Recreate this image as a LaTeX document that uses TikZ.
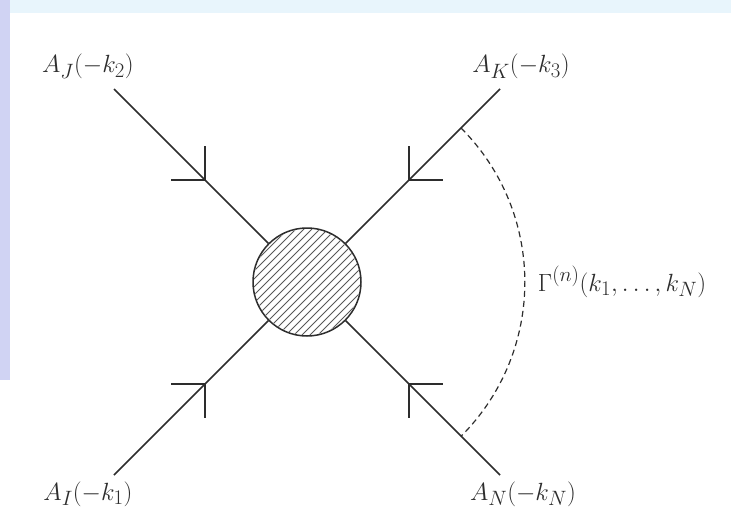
\documentclass[tikz,border=0pt]{standalone}
\usetikzlibrary{calc}
\definecolor{ink}{RGB}{45,45,45}
\definecolor{leftc}{RGB}{208,211,243}
\definecolor{topc}{RGB}{232,245,252}
\begin{document}
\begin{tikzpicture}[x=1pt,y=-1pt,
  leg/.style={draw=ink,line width=1.7pt},
  hatch/.style={draw=ink!80,line width=0.9pt},
  dasharc/.style={draw=ink,line width=1.2pt,dash pattern=on 6pt off 4pt},
  lbl/.style={text=ink,inner sep=0pt,font=\fontsize{24.88}{30}\selectfont}]
\useasboundingbox (0,0) rectangle (731,511);
\fill[white] (0,0) rectangle (731,511);
\fill[topc] (0,0) rectangle (731,13);
\fill[leftc] (0,0) rectangle (10,380);
% vertex
\node[circle,draw=ink,line width=1.5pt,minimum size=108pt,inner sep=0pt] (c) at (307,282) {};
\begin{scope}
  \clip (c.center) circle[radius=53];
  \foreach \i in {-14,...,14}
    \draw[hatch] ($(c.center)+(\i*8,0)$) ++(-80,80) -- ++(160,-160);
\end{scope}
% external points
\coordinate (ul) at (114,89);
\coordinate (ur) at (500,89);
\coordinate (ll) at (114,475);
\coordinate (lr) at (500,475);
\draw[leg] (ul) -- (c);
\draw[leg] (ur) -- (c);
\draw[leg] (ll) -- (c);
\draw[leg] (lr) -- (c);
% arrow ticks
\coordinate (t1) at ($(c.center)!0.53!(ul)$);
\coordinate (t2) at ($(c.center)!0.53!(ur)$);
\coordinate (t3) at ($(c.center)!0.53!(ll)$);
\coordinate (t4) at ($(c.center)!0.53!(lr)$);
\draw[leg] (t1) -- ++(0,-34) (t1) -- ++(-34,0);
\draw[leg] (t2) -- ++(0,-34) (t2) -- ++(34,0);
\draw[leg] (t3) -- ++(0,34) (t3) -- ++(-34,0);
\draw[leg] (t4) -- ++(0,34) (t4) -- ++(34,0);
% dashed arc
\coordinate (a1) at ($(c.center)+(154,-154)$);
\draw[dasharc] (a1) arc[start angle=-45,end angle=45,radius=218];
% labels
\node[lbl,anchor=base] (lj) at (88,73) {$A_J(-k_2)$};
\node[lbl,anchor=base] (lk) at (521,73) {$A_K(-k_3)$};
\node[lbl,anchor=base] (li) at (88,500) {$A_I(-k_1)$};
\node[lbl,anchor=base] (ln) at (523,500) {$A_N(-k_N)$};
\node[lbl,anchor=base] (g) at (622,291) {$\Gamma^{(n)}(k_1,\ldots,k_N)$};
\end{tikzpicture}
\end{document}
